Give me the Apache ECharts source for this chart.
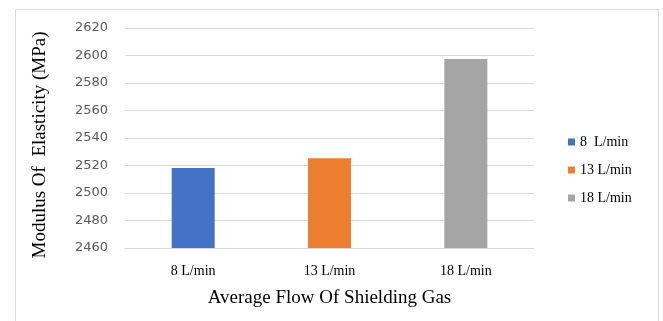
<!DOCTYPE html>
<html>
<head>
<meta charset="utf-8">
<script src="https://cdn.jsdelivr.net/npm/echarts@6/dist/echarts.min.js"></script>
<style>html,body{margin:0;padding:0;background:#fff;}#c{width:663px;height:321px;}</style>
</head>
<body>
<div id="c"></div>
<script>
var categories = ['8 L/min', '13 L/min', '18 L/min'];
var seriesNames = ['8  L/min', '13 L/min', '18 L/min'];
var values = [2518.2, 2525.3, 2597.5];
var colors = ['#4472C4', '#ED7D31', '#A5A5A5'];
var yTicks = {min: 2460, max: 2620, interval: 20};

var chart = echarts.init(document.getElementById('c'));
var series = seriesNames.map(function (name, i) {
  return {
    name: name,
    type: 'bar',
    stack: 'one',
    barWidth: 43,
    itemStyle: {color: colors[i]},
    data: categories.map(function (c, j) { return j === i ? values[i] : '-'; })
  };
});
chart.setOption({
  animation: false,
  graphic: [{
    type: 'rect',
    shape: {x: 15.5, y: 9.5, width: 643, height: 330},
    style: {fill: 'none', stroke: '#d9d9d9', lineWidth: 1},
    silent: true
  }],
  grid: {left: 125, right: 129, top: 28, bottom: 73},
  legend: {
    orient: 'vertical',
    left: 563,
    top: 130,
    itemWidth: 7,
    itemHeight: 7,
    itemGap: 14,
    icon: 'rect',
    textStyle: {fontFamily: 'Liberation Serif', fontSize: 14, color: '#000'},
    data: seriesNames
  },
  xAxis: {
    type: 'category',
    data: categories,
    axisTick: {show: false},
    axisLine: {lineStyle: {color: '#d9d9d9'}},
    axisLabel: {fontFamily: 'Liberation Serif', fontSize: 14, color: '#000', margin: 16},
    name: 'Average Flow Of Shielding Gas',
    nameLocation: 'middle',
    nameGap: 41,
    nameTextStyle: {fontFamily: 'Liberation Serif', fontSize: 19, color: '#000'}
  },
  yAxis: {
    type: 'value',
    min: yTicks.min,
    max: yTicks.max,
    interval: yTicks.interval,
    axisLine: {show: false},
    axisTick: {show: false},
    splitLine: {lineStyle: {color: '#d9d9d9'}},
    axisLabel: {fontFamily: 'DejaVu Sans', fontSize: 13, color: '#595959', margin: 17,
      formatter: function (v) { return String(v); }},
    name: 'Modulus Of  Elasticity (MPa)',
    nameLocation: 'middle',
    nameGap: 75,
    nameTextStyle: {fontFamily: 'Liberation Serif', fontSize: 19, color: '#000', padding: [0, 14, 0, 0]}
  },
  series: series
});
</script>
</body>
</html>
